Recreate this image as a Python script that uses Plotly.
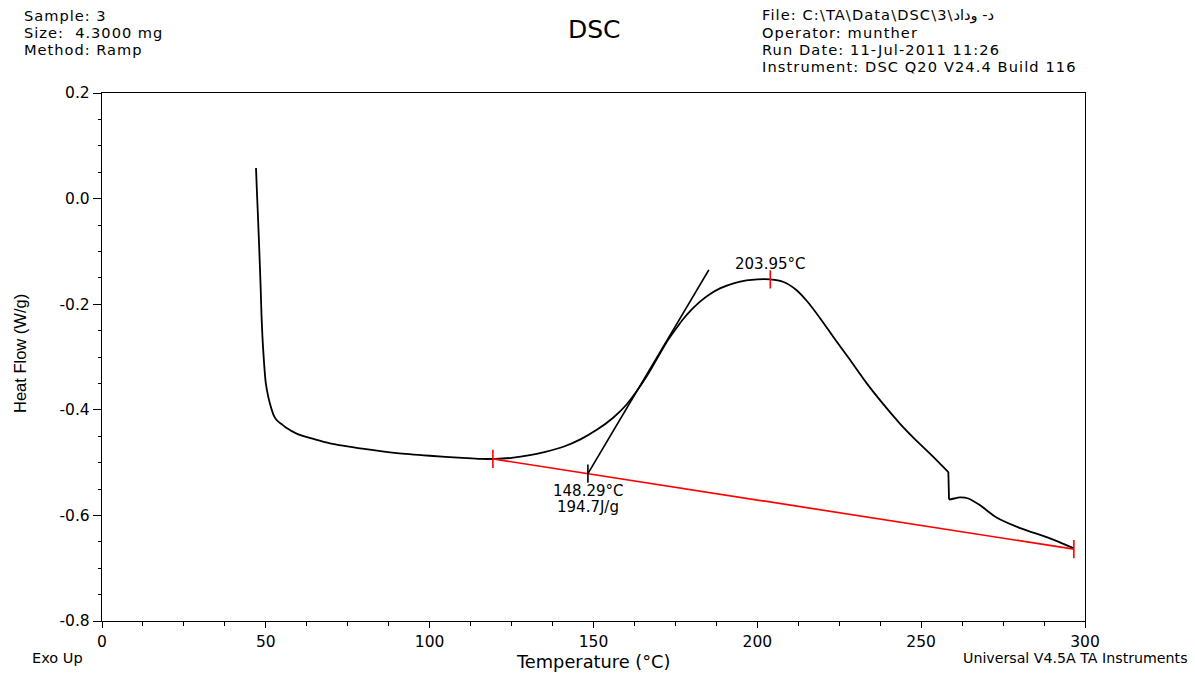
import plotly.graph_objects as go

# ---------------- data ----------------
temp_c = [47.0, 47.3, 47.6, 48.0, 48.4, 48.7, 49.2, 50.0, 50.8, 51.8, 52.3, 53.0, 53.8, 54.8,
          56.0, 59.4, 65.0, 69.6, 80.0, 90.0, 100.0, 110.0, 115.4, 120.0, 125.0, 130.6,
          135.0, 140.8, 146.0, 151.0, 156.0, 160.1, 166.2, 172.3, 175.0, 177.4, 180.0,
          182.5, 185.5, 188.6, 193.0, 196.7, 200.0, 203.95, 208.0, 211.9, 215.0, 219.1,
          223.2, 228.0, 233.4, 238.0, 243.5, 248.0, 253.7, 258.3, 258.5, 260.0, 261.8,
          264.4, 268.0, 273.0, 280.2, 288.3, 292.0, 296.4]
heat_flow = [0.058, 0.010, -0.034, -0.097, -0.165, -0.224, -0.287, -0.350, -0.377, -0.400,
             -0.409, -0.417, -0.4225, -0.427, -0.433, -0.445, -0.456, -0.4635, -0.474,
             -0.482, -0.487, -0.491, -0.493, -0.493, -0.491, -0.486, -0.480, -0.470,
             -0.456, -0.438, -0.415, -0.390, -0.337, -0.272, -0.248, -0.228, -0.210,
             -0.195, -0.181, -0.170, -0.160, -0.155, -0.153, -0.153, -0.158, -0.173,
             -0.193, -0.226, -0.262, -0.303, -0.350, -0.386, -0.426, -0.455, -0.489,
             -0.518, -0.570, -0.568, -0.566, -0.568, -0.581, -0.604, -0.624, -0.641,
             -0.650, -0.662]
step_temp = 258.3  # instrument artefact: abrupt drop in heat flow

baseline_t = [119.3, 296.6]
baseline_v = [-0.493, -0.664]

onset_t = 148.29
onset_v = -0.521
tangent_t = [148.29, 185.2]
tangent_v = [-0.521, -0.135]

peak_t = 203.95
peak_v = -0.153

onset_label = "148.29°C"
enthalpy_label = "194.7J/g"
peak_label = "203.95°C"

x_ticks = [0, 50, 100, 150, 200, 250, 300]
x_ticktext = ["0", "50", "100", "150", "200", "250", "300"]
y_ticks = [-0.8, -0.6, -0.4, -0.2, 0.0, 0.2]
y_ticktext = ["-0.8", "-0.6", "-0.4", "-0.2", "0.0", "0.2"]

header_left = ["Sample: 3", "Size:  4.3000 mg", "Method: Ramp"]
header_right = ["File: C:\\TA\\Data\\DSC\\3\\د- وداد", "Operator: munther",
                "Run Date: 11-Jul-2011 11:26", "Instrument: DSC Q20 V24.4 Build 116"]

# ---------------- layout geometry ----------------
W, H = 1195, 675
L, R, T, B = 102, 110, 93, 54
PW, PH = W - L - R, H - T - B
FONT = "DejaVu Sans"
FONT2 = "Liberation Sans, Arial, sans-serif"


def px(xp):
    return (xp - L) / PW


def py(yp):
    return (H - B - yp) / PH


def spaced(s, ls):
    return '<span style="letter-spacing:%.2fpx">%s</span>' % (ls, s)


k = temp_c.index(step_temp)
segments = [
    (temp_c[:k + 1], heat_flow[:k + 1], "spline"),
    (temp_c[k:k + 2], heat_flow[k:k + 2], "linear"),
    (temp_c[k + 1:], heat_flow[k + 1:], "spline"),
]

fig = go.Figure()
for xs, ys, shp in segments:
    fig.add_trace(go.Scatter(x=xs, y=ys, mode="lines",
                             line=dict(color="black", width=1.8, shape=shp, smoothing=0.7),
                             hoverinfo="skip"))

fig.add_trace(go.Scatter(x=baseline_t, y=baseline_v, mode="lines+markers",
                         line=dict(color="#ff0000", width=1.7),
                         marker=dict(symbol="line-ns", size=13,
                                     line=dict(color="#ff0000", width=1.6)),
                         hoverinfo="skip"))
fig.add_trace(go.Scatter(x=tangent_t, y=tangent_v, mode="lines",
                         line=dict(color="black", width=1.7), hoverinfo="skip"))
fig.add_trace(go.Scatter(x=[onset_t], y=[onset_v], mode="markers",
                         marker=dict(symbol="line-ns", size=13,
                                     line=dict(color="black", width=1.6)),
                         hoverinfo="skip"))
fig.add_trace(go.Scatter(x=[peak_t], y=[peak_v], mode="markers",
                         marker=dict(symbol="line-ns", size=13,
                                     line=dict(color="#ff0000", width=1.6)),
                         hoverinfo="skip"))

ann = []
# data labels
ann.append(dict(x=onset_t, y=onset_v, xref="x", yref="y", text=onset_label,
                showarrow=False, yshift=-17, xanchor="center", yanchor="middle",
                font=dict(family=FONT, size=15, color="black")))
ann.append(dict(x=onset_t, y=onset_v, xref="x", yref="y", text=enthalpy_label,
                showarrow=False, yshift=-33, xanchor="center", yanchor="middle",
                font=dict(family=FONT, size=15, color="black")))
ann.append(dict(x=peak_t, y=peak_v, xref="x", yref="y", text=peak_label,
                showarrow=False, yshift=15, xanchor="center", yanchor="middle",
                font=dict(family=FONT, size=15, color="black")))

# headers
for i, s in enumerate(header_left):
    ann.append(dict(x=px(22), y=py(15 + 17 * i), xref="paper", yref="paper",
                    text=spaced(s, 1.0),
                    showarrow=False, xanchor="left", yanchor="middle",
                    font=dict(family=FONT, size=14.6, color="black")))
for i, s in enumerate(header_right):
    ann.append(dict(x=px(760), y=py(15 + 17 * i), xref="paper", yref="paper",
                    text=spaced(s, 1.1),
                    showarrow=False, xanchor="left", yanchor="middle",
                    font=dict(family=FONT, size=14.6, color="black")))
ann.append(dict(x=px(594), y=py(30), xref="paper", yref="paper", text="DSC",
                showarrow=False, xanchor="center", yanchor="middle",
                font=dict(family=FONT, size=25, color="black")))
# axis titles
ann.append(dict(x=px(593), y=py(661), xref="paper", yref="paper", text="Temperature (°C)",
                showarrow=False, xanchor="center", yanchor="middle",
                font=dict(family=FONT, size=17.8, color="black")))
ann.append(dict(x=px(20), y=py(354), xref="paper", yref="paper", text="Heat Flow (W/g)",
                showarrow=False, xanchor="center", yanchor="middle", textangle=-90,
                font=dict(family=FONT2, size=16.5, color="black")))
ann.append(dict(x=px(30), y=py(658), xref="paper", yref="paper", text="Exo Up",
                showarrow=False, xanchor="left", yanchor="middle",
                font=dict(family=FONT, size=14.5, color="black")))
ann.append(dict(x=px(1190), y=py(658), xref="paper", yref="paper",
                text="Universal V4.5A TA Instruments",
                showarrow=False, xanchor="right", yanchor="middle",
                font=dict(family=FONT, size=14.2, color="black")))

fig.update_layout(
    width=W, height=H,
    margin=dict(l=L, r=R, t=T, b=B, pad=0),
    paper_bgcolor="white", plot_bgcolor="white",
    showlegend=False,
    annotations=ann,
    xaxis=dict(range=[0, 300], tickmode="array", tickvals=x_ticks, ticktext=x_ticktext,
               ticks="outside", ticklen=6, tickwidth=1.3, tickcolor="black",
               showline=True, linecolor="black", linewidth=1.4, mirror=True,
               showgrid=False, zeroline=False,
               tickfont=dict(family=FONT, size=15.5, color="black"),
               minor=dict(tickmode="linear", tick0=0, dtick=12.5, ticks="outside",
                          ticklen=4, tickwidth=1.2, tickcolor="black", showgrid=False)),
    yaxis=dict(range=[-0.8, 0.2], tickmode="array", tickvals=y_ticks, ticktext=y_ticktext,
               ticks="outside", ticklen=8, tickwidth=1.3, tickcolor="black",
               showline=True, linecolor="black", linewidth=1.4, mirror=True,
               showgrid=False, zeroline=False,
               tickfont=dict(family=FONT, size=15.5, color="black"),
               minor=dict(tickmode="linear", tick0=-0.8, dtick=0.05, ticks="outside",
                          ticklen=3, tickwidth=1.2, tickcolor="black", showgrid=False)),
)

fig.write_html("out.html")
